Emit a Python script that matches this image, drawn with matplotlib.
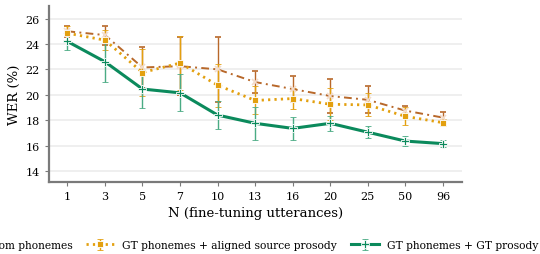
import matplotlib
matplotlib.use("Agg")
import matplotlib.pyplot as plt
import numpy as np

n_labels = ["1", "3", "5", "7", "10", "13", "16", "20", "25", "50", "96"]

pred_label = "GT phonemes + prosody predicted from phonemes"
pred_mean = [25.0, 24.7, 22.15, 22.25, 22.0, 21.0, 20.45, 19.9, 19.6, 18.75, 18.2]
pred_err = [0.45, 0.75, 1.6, 2.3, 2.55, 0.85, 1.05, 1.35, 1.05, 0.4, 0.45]

aligned_label = "GT phonemes + aligned source prosody"
aligned_mean = [24.85, 24.3, 21.75, 22.5, 20.75, 19.55, 19.7, 19.25, 19.2, 18.3, 17.8]
aligned_err = [0.55, 0.8, 1.85, 2.1, 1.7, 1.1, 0.85, 1.25, 0.9, 0.7, 0.3]

gt_label = "GT phonemes + GT prosody"
gt_mean = [24.2, 22.6, 20.45, 20.15, 18.4, 17.75, 17.35, 17.75, 17.05, 16.35, 16.15]
gt_err = [0.7, 1.6, 1.5, 1.45, 1.1, 1.3, 0.9, 0.6, 0.45, 0.4, 0.3]

plt.rcParams['font.family'] = ['DejaVu Serif']

fig = plt.figure(figsize=(5.4, 2.55), dpi=100)
ax = fig.add_axes([0.090, 0.281, 0.765, 0.692])

x = np.arange(len(n_labels))

brown = "#b8682a"
orange = "#e3a00f"
green = "#0b8a5c"

eb1 = ax.errorbar(x, pred_mean, yerr=pred_err, color=brown, lw=1.4,
                  marker="x", ms=4, mec="#f3dccb", mew=1.2,
                  ecolor=brown, elinewidth=1.0, capsize=2.5, capthick=1.0,
                  label=pred_label, zorder=3)
eb1[0].set_linestyle((0, (4, 2.2, 1, 2.2)))
eb2 = ax.errorbar(x, aligned_mean, yerr=aligned_err, color=orange, lw=2.0,
                  marker="s", ms=5, mec="white", mew=0.6,
                  ecolor=orange, elinewidth=1.0, capsize=2.5, capthick=1.0,
                  label=aligned_label, zorder=3)
eb2[0].set_linestyle((0, (0.8, 1.5)))
eb3 = ax.errorbar(x, gt_mean, yerr=gt_err, color=green, ls="-", lw=2.2,
                  marker="P", ms=6, mec="white", mew=0.6,
                  ecolor="#4aab84", elinewidth=1.0, capsize=2.5, capthick=1.0,
                  label=gt_label, zorder=3)

ax.set_xlim(-0.5, 10.5)
ax.set_ylim(13.1, 27.0)
ax.set_xticks(x)
ax.set_xticklabels(n_labels)
ax.set_yticks([14, 16, 18, 20, 22, 24, 26])
ax.grid(axis="y", color="#ebebeb", lw=1.1, zorder=0)
ax.set_axisbelow(True)
for s in ["top", "right"]:
    ax.spines[s].set_visible(False)
for s in ["left", "bottom"]:
    ax.spines[s].set_color("#7a7a7a")
    ax.spines[s].set_linewidth(1.6)
ax.tick_params(axis="both", labelsize=8, color="#7a7a7a", length=3, width=0.8)
ax.set_xlabel("N (fine-tuning utterances)", fontsize=9.5, labelpad=3)
ax.set_ylabel("WER (%)", fontsize=9.5, labelpad=3)

fig.legend(loc="center right", bbox_to_anchor=(0.997, 0.035), ncol=3, frameon=False,
           fontsize=7.65, handlelength=2.6, handletextpad=0.8, columnspacing=1.3,
           borderaxespad=0.0, borderpad=0.0)

fig.savefig("out.png", dpi=100)
